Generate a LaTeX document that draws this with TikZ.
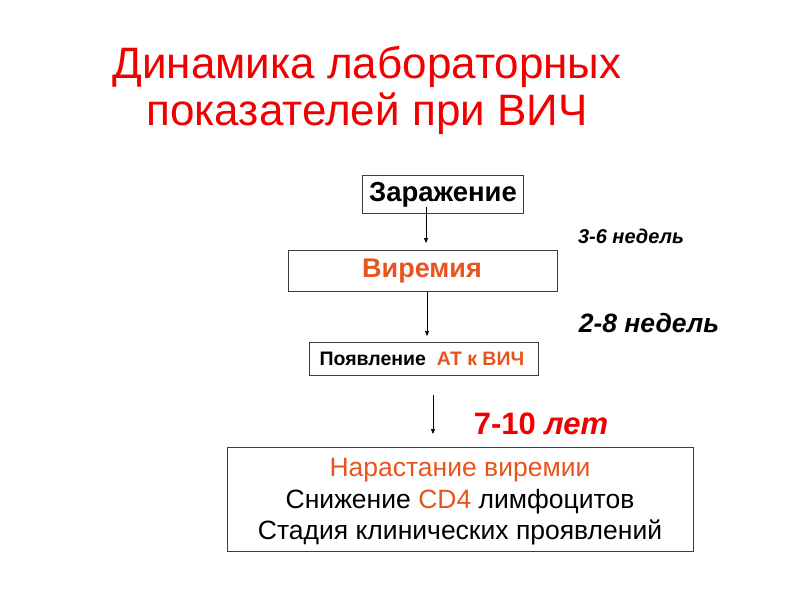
\documentclass[tikz,border=0pt]{standalone}
\usepackage{fontspec}
\setmainfont{Liberation Sans}
\usetikzlibrary{arrows.meta}
\definecolor{ttl}{RGB}{240,0,0}
\definecolor{orng}{RGB}{232,84,30}
\definecolor{frame}{RGB}{60,60,60}
\begin{document}
\begin{tikzpicture}[x=1pt,y=-1pt,
  boxn/.style={draw=frame,line width=0.8pt,inner sep=0pt,anchor=north west},
  arr/.style={-{Triangle[length=5pt,width=4pt]},line width=0.7pt,black}]
\useasboundingbox (0,0) rectangle (800,600);
\node[ttl,font=\fontsize{44}{47}\selectfont,align=center] (title) at (367,90) {Динамика лабораторных\\показателей при ВИЧ};
\node[boxn,minimum width=161pt,minimum height=38pt] (b1) at (362,175) {};
\node[font=\fontsize{27.5}{32}\selectfont\bfseries] (t1) at (443,195) {Заражение};
\node[boxn,minimum width=269pt,minimum height=41pt] (b2) at (288,250) {};
\node[orng,font=\fontsize{27}{32}\selectfont\bfseries] (t2) at (422,271) {Виремия};
\node[boxn,minimum width=229pt,minimum height=33pt] (b3) at (309,342) {};
\node[font=\fontsize{19.5}{23}\selectfont\bfseries] (t3) at (422,359) {Появление\ \ \textcolor{orng}{АТ к ВИЧ}};
\node[boxn,minimum width=466pt,minimum height=104pt] (b4) at (227,447) {};
\node[font=\fontsize{26.5}{31.5}\selectfont,align=center] (t4) at (460,502) {\textcolor{orng}{Нарастание виремии}\\Снижение \textcolor{orng}{CD4} лимфоцитов\\Стадия клинических проявлений};
\node[font=\fontsize{20}{24}\selectfont\bfseries\itshape] (l1) at (631,236) {3-6 недель};
\node[font=\fontsize{26.5}{30}\selectfont\bfseries\itshape] (l2) at (649,323) {2-8 недель};
\node[ttl,font=\fontsize{31}{36}\selectfont\bfseries] (l3) at (541,424) {7-10 \textit{лет}};
\coordinate (a1s) at (426,207);
\coordinate (a1e) at (426,243);
\coordinate (a2s) at (427,292);
\coordinate (a2e) at (427,336);
\coordinate (a3s) at (433,395);
\coordinate (a3e) at (433,434);
\draw[arr] (a1s) -- (a1e);
\draw[arr] (a2s) -- (a2e);
\draw[arr] (a3s) -- (a3e);
\end{tikzpicture}
\end{document}
